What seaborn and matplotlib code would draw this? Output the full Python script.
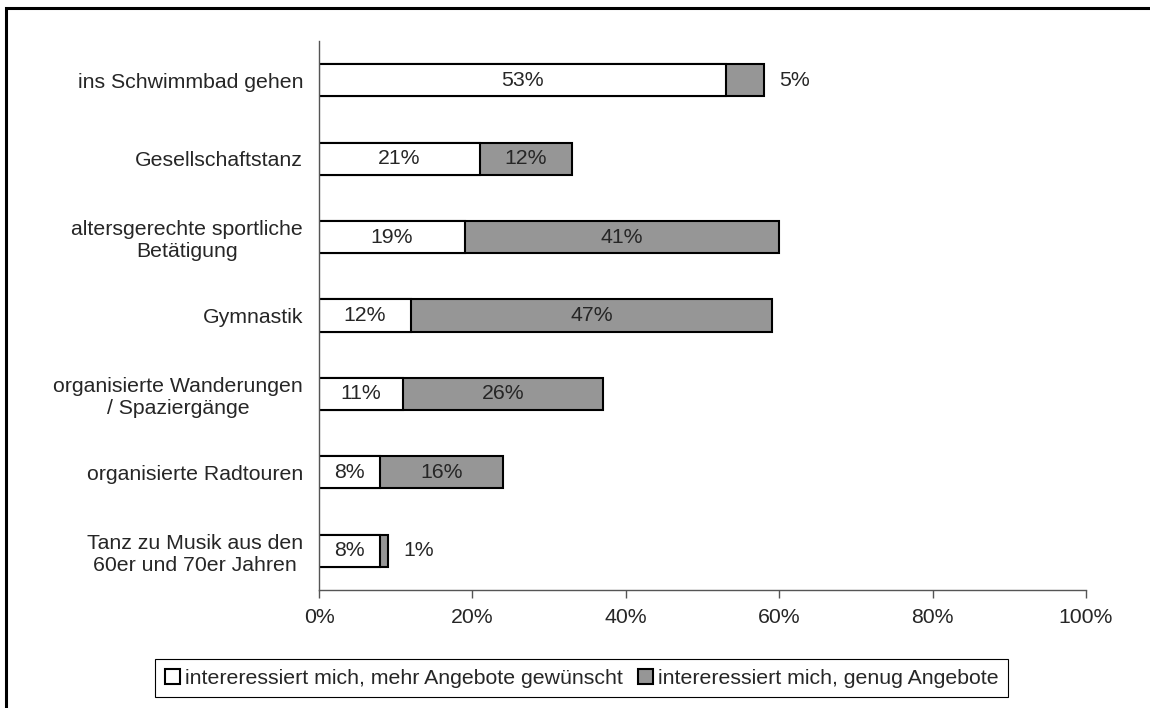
import pandas as pd
import numpy as np
import matplotlib.pyplot as plt
import seaborn as sns
from matplotlib.patches import Patch, Rectangle
from matplotlib.ticker import FixedLocator, PercentFormatter

categories = ["ins Schwimmbad gehen", "Gesellschaftstanz",
              "altersgerechte sportliche\nBetätigung", "Gymnastik",
              "organisierte Wanderungen\n/ Spaziergänge", "organisierte Radtouren",
              "Tanz zu Musik aus den\n60er und 70er Jahren"]
mehr_angebote = [53, 21, 19, 12, 11, 8, 8]
genug_angebote = [5, 12, 41, 47, 26, 16, 1]
series_names = ["intereressiert mich, mehr Angebote gewünscht",
                "intereressiert mich, genug Angebote"]

df = pd.DataFrame({"cat": categories, "mehr": mehr_angebote, "genug": genug_angebote})
df["total"] = df["mehr"] + df["genug"]

FS = 15.3

sns.set_style("white")
plt.rcParams["font.family"] = ["Liberation Sans", "DejaVu Sans"]
plt.rcParams["font.size"] = FS

fig = plt.figure(figsize=(11.5, 7.08), dpi=100)
ax = fig.add_axes([0.2774, 0.1667, 0.667, 0.7753])

gray = "#969696"
sns.barplot(data=df, y="cat", x="total", order=categories, orient="h",
            color=gray, edgecolor="black", linewidth=1.5, width=0.41,
            saturation=1, ax=ax)
sns.barplot(data=df, y="cat", x="mehr", order=categories, orient="h",
            color="white", edgecolor="black", linewidth=1.5, width=0.41,
            saturation=1, ax=ax)

# segment labels
for i, row in df.iterrows():
    ax.text(row["mehr"] / 2, i, f"{row['mehr']}%", ha="center", va="center", fontsize=FS)
    if row["genug"] >= 8:
        ax.text(row["mehr"] + row["genug"] / 2, i, f"{row['genug']}%",
                ha="center", va="center", fontsize=FS)
    else:
        ax.text(row["total"] + 2, i, f"{row['genug']}%", ha="left", va="center", fontsize=FS)

ax.set_xlim(0, 100)
ax.set_ylim(6.5, -0.5)
ax.set_xlabel("")
ax.set_ylabel("")
ax.xaxis.set_major_locator(FixedLocator([0, 20, 40, 60, 80, 100]))
ax.xaxis.set_major_formatter(PercentFormatter(decimals=0))
ax.yaxis.set_minor_locator(FixedLocator(np.arange(-0.5, 7, 1)))
ax.tick_params(axis="y", which="major", length=0, pad=11.5, labelsize=FS)
ax.tick_params(axis="y", which="minor", length=6, width=1, color="#555555", direction="out")
ax.tick_params(axis="x", length=6, width=1, color="#555555", direction="out", pad=7, labelsize=FS)
ax.tick_params(left=True, bottom=True)
for lab in ax.get_yticklabels():
    lab.set_multialignment("center")

sns.despine(ax=ax, top=True, right=True)
for s in ["left", "bottom"]:
    ax.spines[s].set_color("#555555")
    ax.spines[s].set_linewidth(1)

handles = [Patch(facecolor="white", edgecolor="black", linewidth=1.5),
           Patch(facecolor=gray, edgecolor="black", linewidth=1.5)]
leg = fig.legend(handles, series_names, loc="center", bbox_to_anchor=(0.506, 0.042),
                 ncol=2, frameon=True, fancybox=False, edgecolor="black", framealpha=1,
                 handlelength=0.7, handleheight=0.7, handletextpad=0.25,
                 columnspacing=0.7, borderpad=0.45, borderaxespad=0, fontsize=FS)
leg.get_frame().set_linewidth(0.8)

# outer frame (cut off on right and bottom)
fig.patches.append(Rectangle((0.0048, -0.2), 2, 0.988 + 0.2, transform=fig.transFigure,
                             fill=False, edgecolor="black", linewidth=2.2, clip_on=False))

fig.savefig("out.png", dpi=100)
